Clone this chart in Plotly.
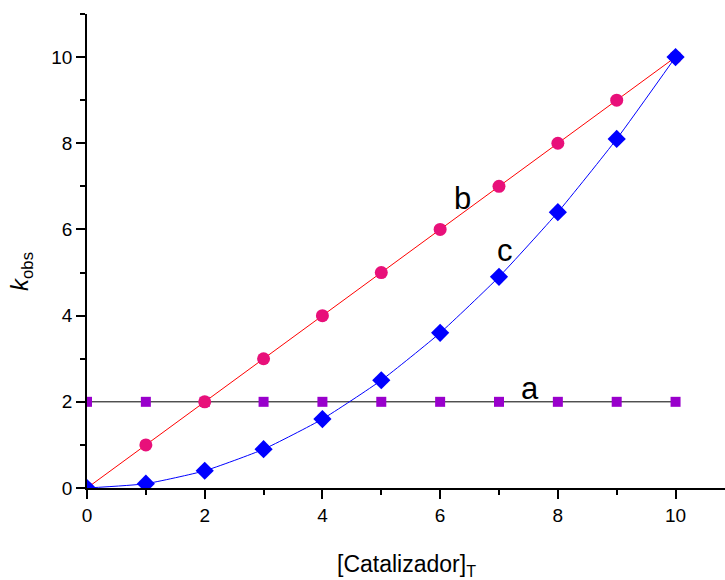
import plotly.graph_objects as go

x_vals = [0, 1, 2, 3, 4, 5, 6, 7, 8, 9, 10]
a_vals = [2, 2, 2, 2, 2, 2, 2, 2, 2, 2, 2]
b_vals = [0, 1, 2, 3, 4, 5, 6, 7, 8, 9, 10]
c_vals = [0, 0.1, 0.4, 0.9, 1.6, 2.5, 3.6, 4.9, 6.4, 8.1, 10]

x_ticks = [0, 2, 4, 6, 8, 10]
y_ticks = [0, 2, 4, 6, 8, 10]

FONT = "Liberation Sans, Arial, sans-serif"

fig = go.Figure()
fig.add_trace(go.Scatter(x=x_vals, y=a_vals, mode="lines+markers",
                         line=dict(color="black", width=1),
                         marker=dict(symbol="square", size=10, color="#9900CC"),
                         showlegend=False))
fig.add_trace(go.Scatter(x=x_vals, y=b_vals, mode="lines+markers",
                         line=dict(color="#FF0000", width=1),
                         marker=dict(symbol="circle", size=13, color="#E8107A"),
                         showlegend=False))
fig.add_trace(go.Scatter(x=x_vals, y=c_vals, mode="lines+markers",
                         line=dict(color="#0000FF", width=1, shape="spline", smoothing=0.5),
                         marker=dict(symbol="diamond", size=14, color="#0000FF"),
                         showlegend=False))

for txt, xx, yy in [("b", 6.38, 6.72), ("c", 7.1, 5.52), ("a", 7.52, 2.3)]:
    fig.add_annotation(x=xx, y=yy, text=txt, showarrow=False,
                       font=dict(family=FONT, size=31, color="black"))

# axis titles
fig.add_annotation(x=0.5, y=0, xref="paper", yref="paper", yshift=-77,
                   xanchor="center", yanchor="middle", showarrow=False,
                   text="[Catalizador]<sub>T</sub>",
                   font=dict(family=FONT, size=23, color="black"))
fig.add_annotation(x=0, y=0.5, xref="paper", yref="paper", xshift=-66, yshift=-21,
                   xanchor="center", yanchor="middle", showarrow=False, textangle=-90,
                   text="<i>k</i><sub>obs</sub>",
                   font=dict(family=FONT, size=24, color="black"))

axis_common = dict(showline=True, linecolor="black", linewidth=1.6,
                   ticks="outside", ticklen=9, tickwidth=1.6, tickcolor="black",
                   showgrid=False, zeroline=False,
                   tickfont=dict(family=FONT, size=19, color="black"),
                   minor=dict(ticks="outside", ticklen=5, tickwidth=1.6,
                              tickcolor="black", dtick=1, showgrid=False))

fig.update_xaxes(range=[0, 10.84], tickvals=x_ticks, **axis_common)
fig.update_yaxes(range=[0, 11], tickvals=y_ticks, **axis_common)

fig.update_layout(width=725, height=580,
                  margin=dict(l=87, r=0, t=14, b=92),
                  plot_bgcolor="white", paper_bgcolor="white")

fig.write_html("out.html", config={"displayModeBar": False},
               post_script="document.body.style.margin='0';")
